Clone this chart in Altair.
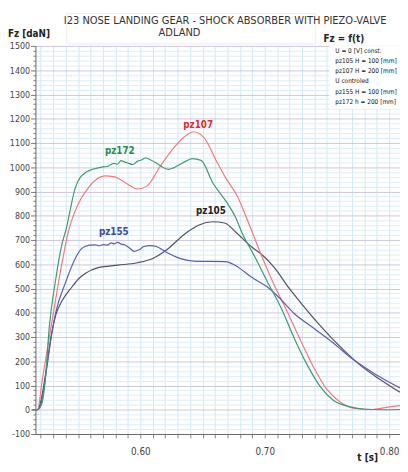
import altair as alt
import pandas as pd

FONT = "Liberation Sans Narrow, DejaVu Sans Condensed, sans-serif"

series_names = ["pz105", "pz107", "pz155", "pz172"]
line_colors = ["#505062", "#f07a7a", "#5a5db4", "#3a9a70"]
label_colors = ["#222222", "#e52a2a", "#3a48a8", "#2a8a50"]

# ---- data (t [s], Fz [daN]) ----
t_pz172 = [0.5134, 0.5173, 0.5205, 0.5236, 0.5268, 0.5320, 0.5372, 0.5399, 0.5478, 0.5557,
           0.5661, 0.5700, 0.5740, 0.5787, 0.5815, 0.5845, 0.5870, 0.5900, 0.5937, 0.5975,
           0.6010, 0.6042, 0.6080, 0.6134, 0.6180, 0.6226, 0.6270, 0.6317, 0.6370, 0.6417,
           0.6488, 0.6583, 0.6685, 0.6764, 0.6819, 0.6921, 0.7024, 0.7134, 0.7236, 0.7339,
           0.7449, 0.7551, 0.7685, 0.7811, 0.7945, 0.8087]
fz_pz172 = [0, 0, 20, 120, 340, 538, 687, 735, 916, 977,
            997, 1001, 1004, 1016, 1012, 1027, 1022, 1017, 1011, 1024,
            1030, 1038, 1031, 1015, 1000, 991, 998, 1011, 1026, 1035,
            1028, 935, 862, 795, 728, 630, 525, 417, 296, 187,
            93, 39, 12, 2, 0, 1]

t_pz107 = [0.5134, 0.5173, 0.5215, 0.5268, 0.5320, 0.5372, 0.5425, 0.5478, 0.5583, 0.5715,
           0.5793, 0.5898, 0.5976, 0.6055, 0.6160, 0.6265, 0.6370, 0.6425, 0.6512, 0.6606,
           0.6685, 0.6780, 0.6866, 0.6976, 0.7079, 0.7181, 0.7291, 0.7394, 0.7496, 0.7606,
           0.7732, 0.7866, 0.7969, 0.8087]
fz_pz107 = [0, 0, 134, 296, 457, 610, 741, 822, 916, 964,
            960, 930, 910, 923, 1004, 1078, 1132, 1146, 1122, 1031,
            957, 880, 775, 633, 511, 404, 282, 174, 86, 32,
            5, 1, 9, 17]

t_pz155 = [0.5134, 0.5173, 0.5205, 0.5242, 0.5281, 0.5320, 0.5399, 0.5478, 0.5530, 0.5583,
           0.5635, 0.5670, 0.5701, 0.5735, 0.5766, 0.5790, 0.5819, 0.5845, 0.5872, 0.5910,
           0.5950, 0.5990, 0.6029, 0.6081, 0.6134, 0.6213, 0.6317, 0.6449, 0.6685, 0.6764,
           0.6898, 0.7024, 0.7110, 0.7236, 0.7394, 0.7551, 0.7709, 0.7866, 0.8087]
fz_pz155 = [0, 0, 30, 150, 290, 400, 525, 625, 665, 678,
            680, 676, 681, 679, 688, 684, 690, 683, 680, 668,
            653, 660, 673, 677, 672, 648, 624, 612, 611, 595,
            545, 505, 465, 397, 336, 275, 208, 154, 90]

t_pz105 = [0.5134, 0.5173, 0.5202, 0.5242, 0.5281, 0.5320, 0.5372, 0.5449, 0.5504, 0.5557,
           0.5661, 0.5819, 0.5976, 0.6108, 0.6213, 0.6370, 0.6472, 0.6583, 0.6677, 0.6772,
           0.6898, 0.6976, 0.7079, 0.7197, 0.7291, 0.7449, 0.7606, 0.7764, 0.7921, 0.8087]
fz_pz105 = [0, 0, 39, 160, 296, 390, 450, 505, 540, 562,
            586, 596, 606, 626, 660, 730, 762, 775, 770, 730,
            670, 640, 585, 500, 440, 345, 260, 185, 127, 72]

label_t = [0.6567, 0.6465, 0.5787, 0.5835]
label_fz = [818, 1174, 733, 1065]

title_lines = ["I23 NOSE LANDING GEAR - SHOCK ABSORBER WITH PIEZO-VALVE", "ADLAND"]
legend_lines = ["U = 0 [V] const.", "pz105 H = 100 [mm]", "pz107 H = 200 [mm]",
                "U controled", "pz155 H = 100 [mm]", "pz172 h = 200 [mm]"]
x_tick_values = [0.52, 0.53, 0.54, 0.55, 0.56, 0.57, 0.58, 0.59, 0.60, 0.61, 0.62, 0.63, 0.64,
                 0.65, 0.66, 0.67, 0.68, 0.69, 0.70, 0.71, 0.72, 0.73, 0.74, 0.75, 0.76, 0.77,
                 0.78, 0.79, 0.80]
y_tick_values = list(range(-100, 1501, 20))

rows = []
for name, ts, fs in [("pz105", t_pz105, fz_pz105), ("pz107", t_pz107, fz_pz107),
                     ("pz155", t_pz155, fz_pz155), ("pz172", t_pz172, fz_pz172)]:
    for t, f in zip(ts, fs):
        rows.append({"t": t, "Fz": f, "series": name})
df = pd.DataFrame(rows)

labels_df = pd.DataFrame({"t": label_t, "Fz": label_fz, "series": series_names,
                          "col": label_colors})

x_enc = alt.X("t:Q", scale=alt.Scale(domain=[0.5157, 0.8087], nice=False, zero=False),
              axis=alt.Axis(values=x_tick_values, tickCount=200, format=".2f",
                            labelExpr="indexof(['0.60','0.70','0.80'], format(datum.value, '.2f')) >= 0 ? format(datum.value, '.2f') : ''",
                            title=None, grid=True, gridColor="#d2e8f2", gridWidth=1,
                            tickSize=4, tickColor="#888888", domainColor="#666666",
                            labelFont=FONT, labelFontSize=10, labelColor="#444444",
                            labelPadding=9, labelFlush=False, labelOverlap=False))
y_enc = alt.Y("Fz:Q", scale=alt.Scale(domain=[-100, 1500], nice=False, zero=False),
              axis=alt.Axis(values=y_tick_values, tickCount=200,
                            labelExpr="datum.value % 100 === 0 ? toString(datum.value) : ''",
                            title=None, grid=True,
                            gridColor={"condition": {"test": "datum.value % 100 === 0", "value": "#cdc6df"},
                                       "value": "#dcedf5"},
                            tickSize={"condition": {"test": "datum.value % 100 === 0", "value": 5},
                                      "value": 2.5},
                            tickColor="#777777", domainColor="#666666",
                            labelFont=FONT, labelFontSize=9, labelColor="#444444",
                            labelPadding=1, labelOverlap=False))

lines = alt.Chart(df).mark_line(strokeWidth=1.2, interpolate="monotone").encode(
    x=x_enc, y=y_enc,
    color=alt.Color("series:N", scale=alt.Scale(domain=series_names, range=line_colors), legend=None),
)

labels = alt.Chart(labels_df).mark_text(font=FONT, fontSize=10, fontWeight="bold",
                                        baseline="middle", align="center").encode(
    x="t:Q", y="Fz:Q", text="series:N", color=alt.Color("col:N", scale=None)
)

one = pd.DataFrame({"a": [0]})
legend_bg = alt.Chart(one).mark_rect(fill="white").encode(
    x=alt.value(300), x2=alt.value(372), y=alt.value(0), y2=alt.value(64))
title_box = alt.Chart(one).mark_rect(fill=None, stroke="#ececec", strokeWidth=1).encode(
    x=alt.value(32), x2=alt.value(286), y=alt.value(-33), y2=alt.value(-2))
title1 = alt.Chart(one).mark_text(text=title_lines[0], font=FONT, fontSize=11.2, color="#333333",
                                  align="left", baseline="middle").encode(
    x=alt.value(29), y=alt.value(-25))
title2 = alt.Chart(one).mark_text(text=title_lines[1], font=FONT, fontSize=11.2, color="#333333",
                                  align="center", baseline="middle").encode(
    x=alt.value(147), y=alt.value(-13))
ylab = alt.Chart(one).mark_text(text="Fz [daN]", font=FONT, fontSize=10, fontWeight="bold",
                                color="#222222", align="left", baseline="middle").encode(
    x=alt.value(-28), y=alt.value(-12))
flab = alt.Chart(one).mark_text(text="Fz = f(t)", font=FONT, fontSize=10, fontWeight="bold",
                                color="#222222", align="left", baseline="middle").encode(
    x=alt.value(294), y=alt.value(-7))
xlab = alt.Chart(one).mark_text(text="t [s]", font=FONT, fontSize=10, fontWeight="bold",
                                color="#222222", align="center", baseline="bottom").encode(
    x=alt.value(339), y=alt.value(426))
legend_txt = alt.Chart(one).mark_text(text=legend_lines, font=FONT, fontSize=6.6, color="#111111",
                                      align="left", baseline="top", lineHeight=10.4).encode(
    x=alt.value(306), y=alt.value(2))

chart = alt.layer(lines, labels, legend_bg, title_box, title1, title2, ylab, flab, xlab,
                  legend_txt).properties(
    width=372, height=396,
    autosize=alt.AutoSizeParams(type="none"),
    padding={"left": 28, "top": 34, "right": 0, "bottom": 30},
).configure_view(stroke=None)

chart.save("out.html", embed_options={"renderer": "svg", "actions": False})
